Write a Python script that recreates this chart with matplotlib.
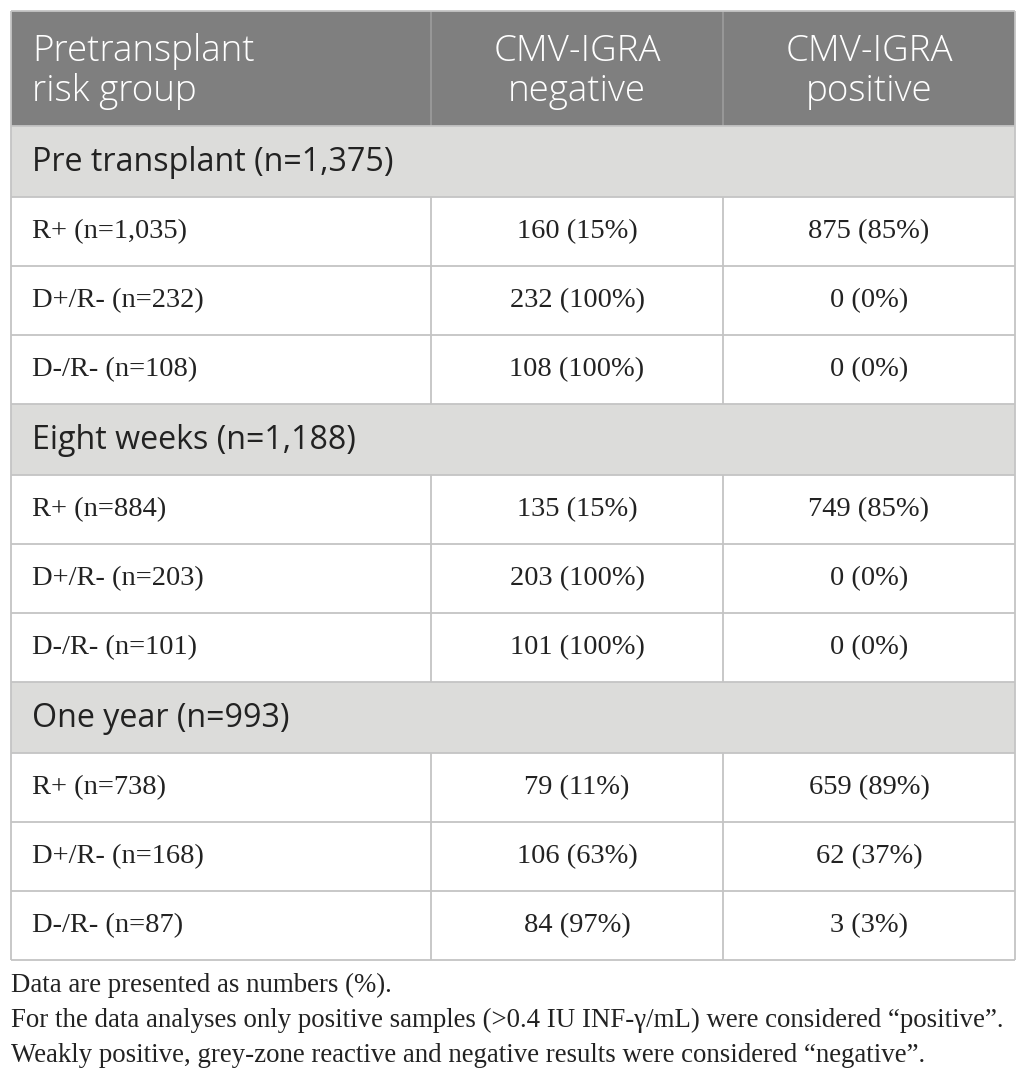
import matplotlib
matplotlib.use("Agg")
import matplotlib.pyplot as plt
from matplotlib.patches import Rectangle

W, H = 1026, 1087

header = ["Pretransplant\nrisk group", "CMV-IGRA\nnegative", "CMV-IGRA\npositive"]
sections = ["Pre transplant (n=1,375)", "Eight weeks (n=1,188)", "One year (n=993)"]
groups = [
    ["R+ (n=1,035)", "D+/R- (n=232)", "D-/R- (n=108)"],
    ["R+ (n=884)", "D+/R- (n=203)", "D-/R- (n=101)"],
    ["R+ (n=738)", "D+/R- (n=168)", "D-/R- (n=87)"],
]
negative = [
    ["160 (15%)", "232 (100%)", "108 (100%)"],
    ["135 (15%)", "203 (100%)", "101 (100%)"],
    ["79 (11%)", "106 (63%)", "84 (97%)"],
]
positive = [
    ["875 (85%)", "0 (0%)", "0 (0%)"],
    ["749 (85%)", "0 (0%)", "0 (0%)"],
    ["659 (89%)", "62 (37%)", "3 (3%)"],
]
footnotes = [
    "Data are presented as numbers (%).",
    "For the data analyses only positive samples (>0.4 IU INF-\u03b3/mL) were considered \u201cpositive\u201d.",
    "Weakly positive, grey-zone reactive and negative results were considered \u201cnegative\u201d.",
]

# layout in pixels
left, right = 11, 1015
col_x = [11, 431, 723, 1015]
top = 11
header_h = 115
section_h = 71
row_h = 69

HEAD_BG = "#7f7f7f"
SEC_BG = "#dcdcda"
LINE = "#c4c4c4"
SANS = "Open Sans"
SERIF = "Liberation Serif"
HEAD_FS = 26.5
SEC_FS = 23.2
BODY_FS = 20.5
NOTE_FS = 19.4

fig = plt.figure(figsize=(W / 100, H / 100), dpi=100)
ax = fig.add_axes([0, 0, 1, 1])
ax.set_xlim(0, W)
ax.set_ylim(H, 0)
ax.axis("off")


def hline(y, x0=left, x1=right):
    ax.plot([x0, x1], [y, y], color=LINE, lw=1.3, solid_capstyle="butt")


def vline(x, y0, y1, color=LINE):
    ax.plot([x, x], [y0, y1], color=color, lw=1.3, solid_capstyle="butt")


# header
y = top
ax.add_patch(Rectangle((left, y), right - left, header_h, color=HEAD_BG, lw=0))
ax.text(col_x[0] + 21, y + header_h / 2 + 3, header[0], ha="left", va="center",
        color="white", fontsize=HEAD_FS, family=SANS, fontweight="light",
        linespacing=1.1)
for i in (1, 2):
    ax.text((col_x[i] + col_x[i + 1]) / 2, y + header_h / 2 + 3, header[i],
            ha="center", va="center", color="white", fontsize=HEAD_FS,
            family=SANS, fontweight="light", linespacing=1.1)
for x in col_x[1:3]:
    vline(x, y, y + header_h, color="#9a9a9a")
hline(y)
y += header_h

for s, sec in enumerate(sections):
    ax.add_patch(Rectangle((left, y), right - left, section_h, color=SEC_BG, lw=0))
    ax.text(col_x[0] + 21, y + section_h / 2 + 1, sec, ha="left", va="center",
            color="#222222", fontsize=SEC_FS, family=SANS)
    hline(y)
    y += section_h
    for r in range(len(groups[s])):
        hline(y)
        ax.text(col_x[0] + 21, y + row_h / 2, groups[s][r], ha="left", va="center",
                color="#222222", fontsize=BODY_FS, family=SERIF)
        ax.text((col_x[1] + col_x[2]) / 2, y + row_h / 2, negative[s][r],
                ha="center", va="center", color="#222222", fontsize=BODY_FS, family=SERIF)
        ax.text((col_x[2] + col_x[3]) / 2, y + row_h / 2, positive[s][r],
                ha="center", va="center", color="#222222", fontsize=BODY_FS, family=SERIF)
        for x in col_x[1:3]:
            vline(x, y, y + row_h)
        y += row_h
hline(y)
bottom = y
vline(left, top, bottom)
vline(right, top, bottom)

for k, note in enumerate(footnotes):
    ax.text(left, 985 + k * 35.5, note, ha="left", va="center",
            color="#222222", fontsize=NOTE_FS, family=SERIF)

fig.savefig("out.png", dpi=100)
